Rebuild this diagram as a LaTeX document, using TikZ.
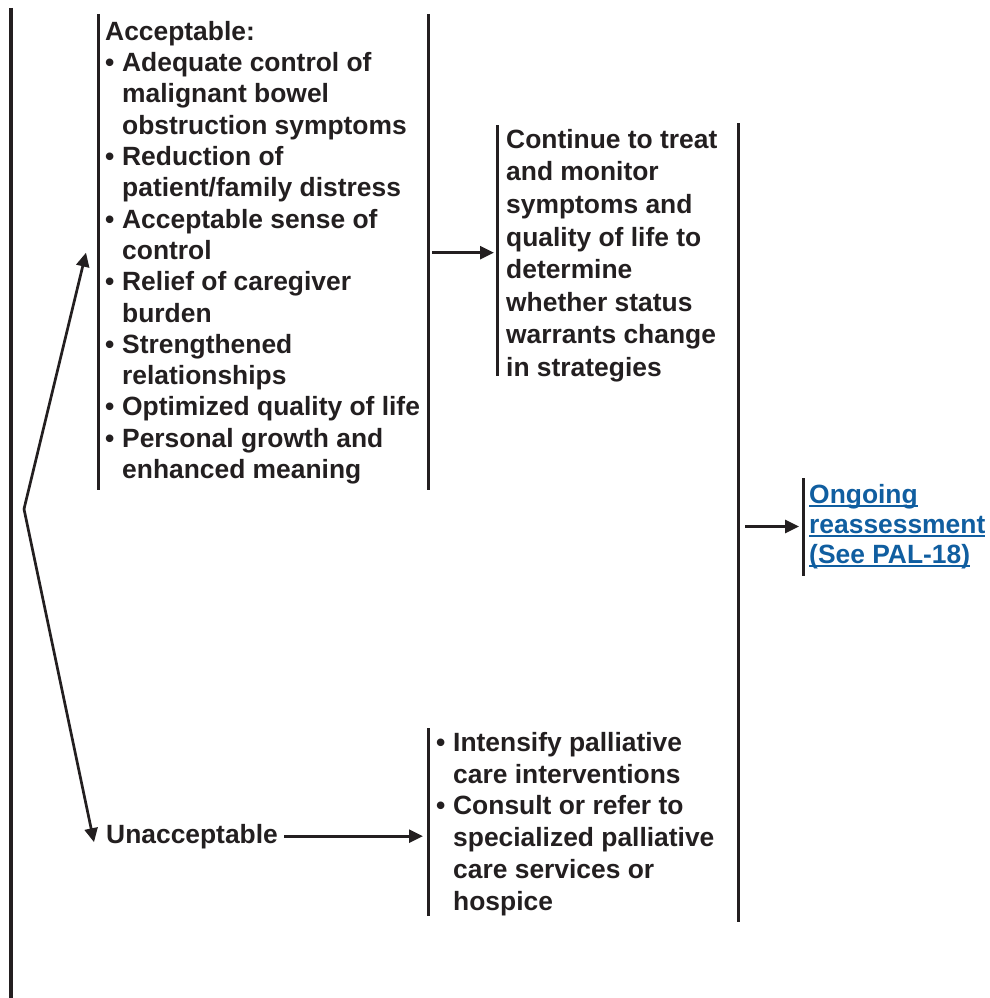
\documentclass[tikz,border=0pt]{standalone}
\usepackage{fontspec}
\setmainfont{Liberation Sans}
\usetikzlibrary{arrows.meta}
\definecolor{linkblue}{RGB}{16,94,160}
\definecolor{ink}{RGB}{35,31,32}
% bullet item start and continuation indent
\newcommand\bul{\makebox[17pt][l]{\textbullet}}
\newcommand\ind{\makebox[17pt]{}}
% underlined link text
\newcommand\lnk[1]{\setbox0\hbox{#1}\rlap{\rule[-3.5pt]{\wd0}{1.8pt}}\box0}
\begin{document}
\begin{tikzpicture}[x=1pt,y=-1pt, color=ink,
  txt/.style={anchor=north west, inner sep=0pt, align=left, text=ink,
              font=\fontsize{26.4}{31.3}\selectfont\bfseries},
  rule/.style={line width=3pt},
  arr/.style={line width=2.7pt, -{Triangle[length=14pt,width=13pt]}}]
\useasboundingbox (0,0) rectangle (989,998);

% bracket positions
\coordinate (mainL) at (11,8);
\coordinate (accL)  at (98,14);
\coordinate (accR)  at (428,14);
\coordinate (contL) at (497,125);
\coordinate (coll)  at (738,123);
\coordinate (intL)  at (428,728);
\coordinate (ongL)  at (803,478);
\coordinate (fork)  at (24,509);

% text blocks
\node[txt] (acc) at (105,21) {Acceptable:\\
\bul Adequate control of\\
\ind malignant bowel\\
\ind obstruction symptoms\\
\bul Reduction of\\
\ind patient/family distress\\
\bul Acceptable sense of\\
\ind control\\
\bul Relief of caregiver\\
\ind burden\\
\bul Strengthened\\
\ind relationships\\
\bul Optimized quality of life\\
\bul Personal growth and\\
\ind enhanced meaning};

\node[txt, font=\fontsize{26.4}{32.6}\selectfont\bfseries] (cont) at (506,129) {Continue to treat\\
and monitor\\
symptoms and\\
quality of life to\\
determine\\
whether status\\
warrants change\\
in strategies};

\node[txt, text=linkblue, font=\fontsize{26.4}{30}\selectfont\bfseries] (ong) at (809,484)
  {\lnk{Ongoing}\\ \lnk{reassessment}\\ \lnk{(See PAL-18)}};

\node[txt, font=\fontsize{26.4}{31.8}\selectfont\bfseries] (intens) at (436,732) {\bul Intensify palliative\\
\ind care interventions\\
\bul Consult or refer to\\
\ind specialized palliative\\
\ind care services or\\
\ind hospice};

\node[txt, anchor=base west] (unacc) at (106,843) {Unacceptable};

% brackets
\draw[line width=3.4pt] (mainL) -- (11,998);
\draw[rule] (accL) -- (98,490);
\draw[rule] (accR) -- (428,490);
\draw[rule] (contL) -- (497,376);
\draw[rule] (coll) -- (738,922);
\draw[rule] (intL) -- (428,916);
\draw[rule] (ongL) -- (803,576);

% connectors
\draw[arr] (fork) -- ([xshift=-12pt]accL |- acc.east);
\draw[arr] (fork) -- ([xshift=-12pt,yshift=-6pt]unacc.west);
\draw[arr] ([xshift=4pt]accR |- acc.east) -- ([xshift=-3pt]contL |- acc.east);
\draw[arr] ([xshift=6pt]unacc.east) -- ([xshift=-5pt]intL |- unacc.east);
\draw[arr] ([xshift=7pt]coll |- ong.west) -- ([xshift=-4pt]ongL |- ong.west);
\end{tikzpicture}
\end{document}
